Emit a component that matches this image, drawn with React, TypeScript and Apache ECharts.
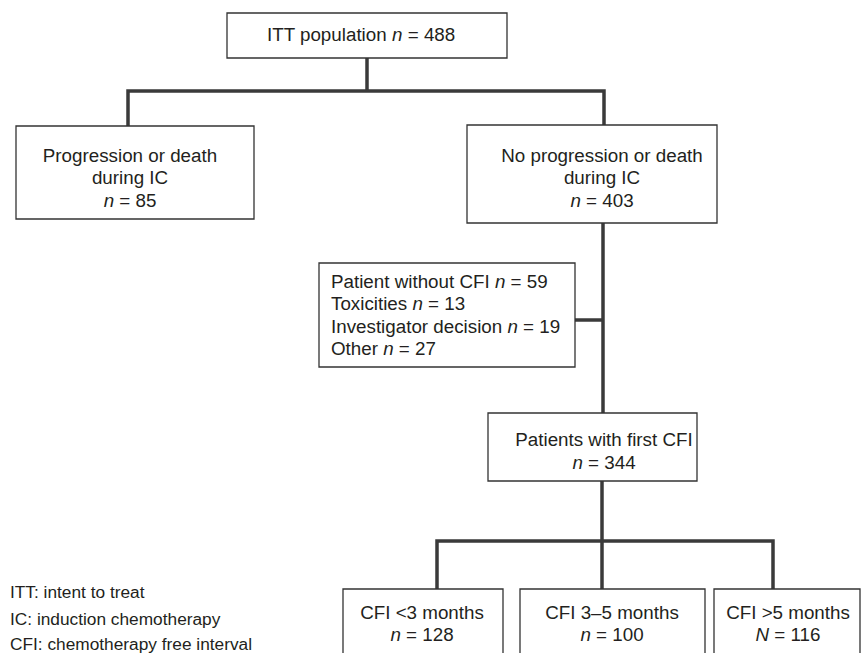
import React, { useEffect, useRef } from "react";
import * as echarts from "echarts";

// ---- data ----
const nodeTitles: string[][] = [
  ["ITT population"],
  ["Progression or death", "during IC"],
  ["No progression or death", "during IC"],
  ["Patients with first CFI"],
  ["CFI <3 months"],
  ["CFI 3–5 months"],
  ["CFI >5 months"],
];
const nodeCounts: number[] = [488, 85, 403, 344, 128, 100, 116];
const nodeCountSymbols: string[] = ["n", "n", "n", "n", "n", "n", "N"];
const exclusionReasons: string[] = ["Patient without CFI", "Toxicities", "Investigator decision", "Other"];
const exclusionCounts: number[] = [59, 13, 19, 27];
const abbreviations: string[] = [
  "ITT: intent to treat",
  "IC: induction chemotherapy",
  "CFI: chemotherapy free interval",
];

// ---- layout (positions / sizes) ----
type Box = { x: number; y: number; w: number; h: number; tx: number; ty: number[]; inline?: boolean };
const boxes: Box[] = [
  { x: 227, y: 13, w: 280, h: 45, tx: 361, ty: [34], inline: true },
  { x: 16, y: 126, w: 238, h: 93, tx: 130, ty: [155, 177, 200] },
  { x: 467, y: 125, w: 250, h: 98, tx: 602, ty: [155, 177, 200] },
  { x: 488, y: 413, w: 209, h: 68, tx: 604, ty: [439, 462] },
  { x: 343, y: 589, w: 160, h: 90, tx: 422, ty: [612, 634] },
  { x: 520, y: 589, w: 185, h: 90, tx: 612, ty: [612, 634] },
  { x: 714, y: 589, w: 146, h: 90, tx: 788, ty: [612, 634] },
];
const exclBox = { x: 319, y: 263, w: 256, h: 104, tx: 331, ty: [281, 303, 326, 348] };
const legendPos = { x: 10, ty: [592, 619, 644] };

const connectors: number[][][] = [
  [[367, 58], [367, 91]],
  [[128, 126], [128, 91], [604, 91], [604, 125]],
  [[603, 223], [603, 413]],
  [[575, 320], [603, 320]],
  [[602, 481], [602, 541]],
  [[437, 589], [437, 541], [773, 541], [773, 589]],
  [[602, 541], [602, 589]],
];

const FONT = '"Liberation Sans", Arial, Helvetica, sans-serif';
const BOX_FONT_SIZE = 18.8;
const LEGEND_FONT_SIZE = 17.3;
const TEXT_COLOR = "#231f20";
const LINE_COLOR = "#3a3a3a";
const BORDER_COLOR = "#333333";

function textEl(x: number, y: number, text: string, align: string, size = BOX_FONT_SIZE) {
  return {
    type: "text",
    x,
    y,
    silent: true,
    style: {
      text,
      fill: TEXT_COLOR,
      font: `${size}px ${FONT}`,
      fontSize: size,
      fontFamily: FONT,
      align,
      verticalAlign: "middle",
      rich: {
        i: { fontStyle: "italic", fontSize: size, fontFamily: FONT, fill: TEXT_COLOR, color: TEXT_COLOR },
        r: { fontSize: size, fontFamily: FONT, fill: TEXT_COLOR, color: TEXT_COLOR },
      },
    },
  };
}

function countText(i: number) {
  return `{i|${nodeCountSymbols[i]}}{r| = ${nodeCounts[i]}}`;
}

export default function App() {
  const ref = useRef<HTMLDivElement>(null);
  useEffect(() => {
    if (!ref.current) return;
    const chart = echarts.init(ref.current, undefined, { renderer: "svg" });
    const elements: any[] = [];

    connectors.forEach((pts) => {
      elements.push({
        type: "polyline",
        silent: true,
        shape: { points: pts },
        style: { stroke: LINE_COLOR, lineWidth: 3.5, fill: "none", lineJoin: "miter", lineCap: "butt" },
      });
    });

    boxes.forEach((b, i) => {
      elements.push({
        type: "rect",
        silent: true,
        shape: { x: b.x, y: b.y, width: b.w, height: b.h },
        style: { fill: "#ffffff", stroke: BORDER_COLOR, lineWidth: 1.3 },
      });
      const titles = nodeTitles[i];
      if (b.inline) {
        elements.push(textEl(b.tx, b.ty[0], `{r|${titles[0]} }` + countText(i), "center"));
      } else {
        titles.forEach((t, k) => {
          elements.push(textEl(b.tx, b.ty[k], `{r|${t}}`, "center"));
        });
        elements.push(textEl(b.tx, b.ty[titles.length], countText(i), "center"));
      }
    });

    elements.push({
      type: "rect",
      silent: true,
      shape: { x: exclBox.x, y: exclBox.y, width: exclBox.w, height: exclBox.h },
      style: { fill: "#ffffff", stroke: BORDER_COLOR, lineWidth: 1.3 },
    });
    exclusionReasons.forEach((r, k) => {
      elements.push(
        textEl(exclBox.tx, exclBox.ty[k], `{r|${r} }{i|n}{r| = ${exclusionCounts[k]}}`, "left")
      );
    });

    abbreviations.forEach((a, k) => {
      elements.push(textEl(legendPos.x, legendPos.ty[k], `{r|${a}}`, "left", LEGEND_FONT_SIZE));
    });

    chart.setOption({
      animation: false,
      backgroundColor: "#ffffff",
      graphic: { elements },
    });
    return () => chart.dispose();
  }, []);
  return (
    <div
      ref={ref}
      style={{ position: "fixed", left: 0, top: 0, width: 861, height: 653, background: "#fff" }}
    />
  );
}
